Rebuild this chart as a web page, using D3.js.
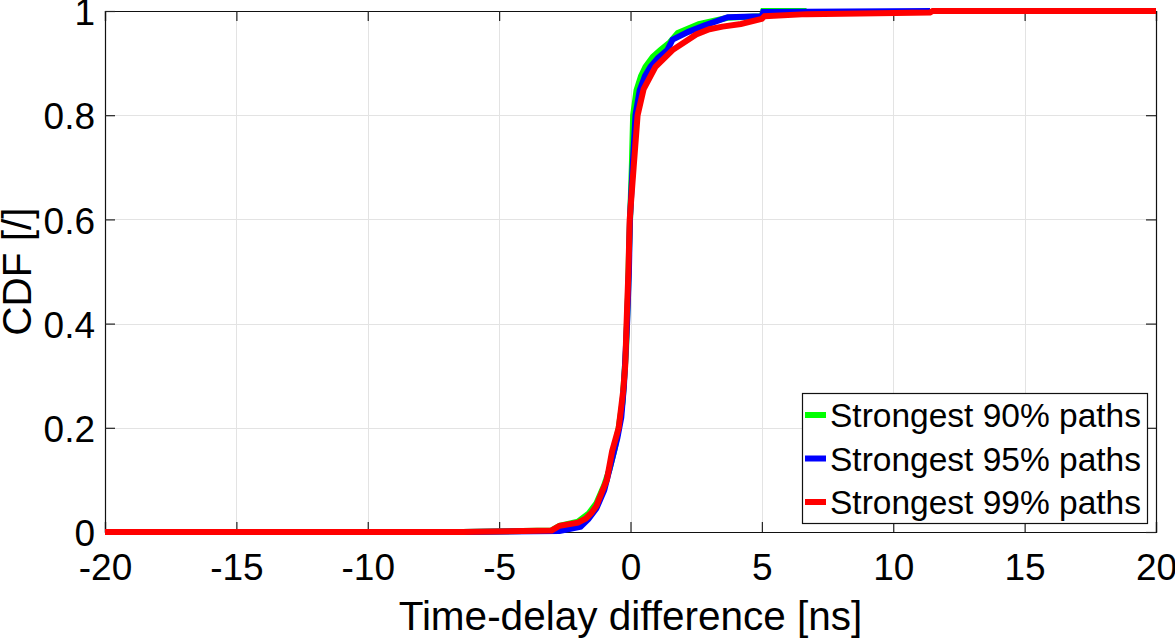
<!DOCTYPE html>
<html>
<head>
<meta charset="utf-8">
<script src="https://cdn.jsdelivr.net/npm/d3@7"></script>
<style>
  body { margin: 0; background: #fff; }
  svg { display: block; font-family: "Liberation Sans", Arial, Helvetica, sans-serif; }
</style>
</head>
<body>
<svg id="chart" width="1175" height="641"></svg>
<script>
// estimated from the figure
var xTicks = [-20, -15, -10, -5, 0, 5, 10, 15, 20];
var yTicks = [0, 0.2, 0.4, 0.6, 0.8, 1];
var seriesNames = ['Strongest 90% paths', 'Strongest 95% paths', 'Strongest 99% paths'];
var seriesColors = ['#00ff00', '#0000ff', '#ff0000'];

var delay90 = [-6.4, -3.0, -2.7, -2.0, -1.6, -1.3, -1.0, -0.8, -0.6, -0.45, -0.3, -0.17, -0.1, -0.05, 0.05, 0.1, 0.23, 0.4, 0.57, 0.85, 1.14, 1.5, 1.8, 2.6, 3.7, 5.0, 5.05, 6.7];
var cdf90 = [0, 0.003, 0.012, 0.02, 0.035, 0.055, 0.09, 0.12, 0.16, 0.2, 0.25, 0.35, 0.45, 0.55, 0.7, 0.8, 0.848, 0.875, 0.893, 0.912, 0.925, 0.94, 0.958, 0.975, 0.987, 0.99, 1, 1];

var delay95 = [-6.4, -2.7, -1.9, -1.6, -1.3, -1.0, -0.75, -0.5, -0.35, -0.25, -0.13, -0.06, -0.02, 0.08, 0.19, 0.35, 0.55, 0.76, 1.05, 1.4, 1.6, 2.2, 2.8, 3.7, 5.0, 5.05, 11.4];
var cdf95 = [0, 0.002, 0.01, 0.025, 0.045, 0.08, 0.13, 0.18, 0.22, 0.28, 0.4, 0.5, 0.6, 0.7, 0.8, 0.848, 0.875, 0.893, 0.91, 0.925, 0.945, 0.96, 0.972, 0.988, 0.99, 0.998, 1];

var delay99 = [-20, -6.4, -3.0, -2.7, -2.0, -1.7, -1.5, -1.3, -1.1, -0.9, -0.7, -0.45, -0.28, -0.2, -0.15, -0.08, -0.03, 0.12, 0.27, 0.5, 0.95, 1.6, 2.5, 3.0, 3.5, 4.2, 5.0, 5.1, 6.7, 11.4, 11.5, 20];
var cdf99 = [0, 0, 0.003, 0.012, 0.018, 0.026, 0.036, 0.05, 0.075, 0.1, 0.155, 0.2, 0.27, 0.32, 0.4, 0.5, 0.6, 0.7, 0.8, 0.85, 0.893, 0.925, 0.955, 0.965, 0.97, 0.975, 0.985, 0.99, 0.994, 0.997, 1, 1];

var series = [
  { name: seriesNames[0], color: seriesColors[0], xs: delay90, ys: cdf90 },
  { name: seriesNames[1], color: seriesColors[1], xs: delay95, ys: cdf95 },
  { name: seriesNames[2], color: seriesColors[2], xs: delay99, ys: cdf99 }
];

var plotL = 105, plotR = 1156, plotT = 11, plotB = 532;
var svg = d3.select('#chart');

var x = d3.scaleLinear().domain([-20, 20]).range([plotL, plotR]);
var y = d3.scaleLinear().domain([0, 1]).range([plotB, plotT]);

// grid
var grid = svg.append('g').attr('stroke', '#e3e3e3').attr('stroke-width', 1);
grid.selectAll('.gx').data(xTicks.slice(1, -1)).enter().append('line')
  .attr('x1', d => Math.round(x(d)) + 0.5).attr('x2', d => Math.round(x(d)) + 0.5)
  .attr('y1', plotT).attr('y2', plotB);
grid.selectAll('.gy').data(yTicks.slice(1, -1)).enter().append('line')
  .attr('y1', d => Math.round(y(d)) + 0.5).attr('y2', d => Math.round(y(d)) + 0.5)
  .attr('x1', plotL).attr('x2', plotR);

// axes, ticks pointing inward
var fmt = d => String(d);
var xAxis = svg.append('g').attr('transform', 'translate(0,' + plotB + ')')
  .call(d3.axisBottom(x).tickValues(xTicks).tickSize(-10).tickPadding(22).tickFormat(fmt));
var xTop = svg.append('g').attr('transform', 'translate(0,' + plotT + ')')
  .call(d3.axisTop(x).tickValues(xTicks).tickSize(-10).tickFormat(''));
var yAxis = svg.append('g').attr('transform', 'translate(' + plotL + ',0)')
  .call(d3.axisLeft(y).tickValues(yTicks).tickSize(-10).tickPadding(10).tickFormat(fmt));
var yRight = svg.append('g').attr('transform', 'translate(' + plotR + ',0)')
  .call(d3.axisRight(y).tickValues(yTicks).tickSize(-10).tickFormat(''));

[xAxis, xTop, yAxis, yRight].forEach(function (a) {
  a.select('.domain').attr('stroke', '#111').attr('stroke-width', 1.2);
  a.selectAll('.tick line').attr('stroke', '#222').attr('stroke-width', 1.2);
  a.selectAll('text').attr('font-size', 37).attr('fill', '#000')
    .attr('font-family', '"Liberation Sans", Arial, sans-serif');
});
yAxis.selectAll('text').attr('dy', '0.37em');

// lines
var line = d3.line().x(d => x(d[0])).y(d => y(d[1]));
svg.append('g').selectAll('path').data(series).enter().append('path')
  .attr('d', s => line(d3.zip(s.xs, s.ys)))
  .attr('fill', 'none')
  .attr('stroke', s => s.color)
  .attr('stroke-width', 6)
  .attr('stroke-linejoin', 'miter');

// axis titles
svg.append('text').attr('x', (plotL + plotR) / 2).attr('y', 630)
  .attr('text-anchor', 'middle').attr('font-size', 40.5)
  .text('Time-delay difference [ns]');
svg.append('text').attr('transform', 'translate(31,' + (plotT + plotB) / 2 + ') rotate(-90)')
  .attr('text-anchor', 'middle').attr('font-size', 40.5)
  .text('CDF [/]');

// legend
var lg = svg.append('g');
lg.append('rect').attr('x', 802.5).attr('y', 393.5).attr('width', 345).attr('height', 130)
  .attr('fill', '#fff').attr('stroke', '#111').attr('stroke-width', 1.2);
var rows = lg.selectAll('.row').data(series).enter().append('g')
  .attr('transform', (d, i) => 'translate(0,' + (415 + i * 43.5) + ')');
rows.append('line').attr('x1', 805).attr('x2', 826).attr('y1', 0).attr('y2', 0)
  .attr('stroke', d => d.color).attr('stroke-width', 6);
rows.append('text').attr('x', 830).attr('y', 12).attr('font-size', 33.5)
  .text(d => d.name);
</script>
</body>
</html>
